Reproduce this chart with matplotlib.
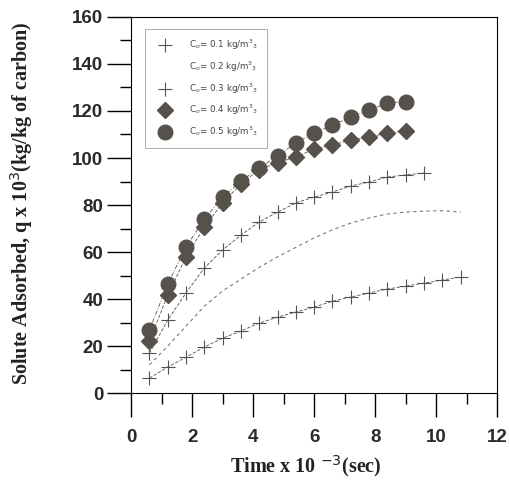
import matplotlib.pyplot as plt

# time x 10^-3 (sec)
t = [0.6, 1.2, 1.8, 2.4, 3.0, 3.6, 4.2, 4.8, 5.4, 6.0, 6.6, 7.2, 7.8, 8.4, 9.0, 9.6, 10.2, 10.8]

# solute adsorbed q x 10^3 for each initial concentration
q01 = [6.4, 11.1, 15.3, 19.6, 23.4, 26.4, 29.8, 32.3, 34.5, 36.6, 39.1, 40.9, 42.6, 44.3, 45.5, 46.8, 48.1, 49.4]
q02 = [12, 20, 28.5, 37, 43.5, 48.5, 53.5, 58, 62, 66, 69.5, 72.3, 74.5, 76.2, 77, 77.4, 77.6, 77]
q03 = [17.0, 31.1, 42.6, 53.2, 60.9, 67.2, 72.8, 77.0, 80.9, 83.4, 85.5, 88.1, 89.8, 91.9, 92.8, 93.6]
q04 = [22.1, 41.7, 57.9, 70.6, 80.9, 89.0, 95.0, 98.0, 100.4, 103.8, 105.5, 107.7, 108.9, 110.6, 111.5]
q05 = [26.8, 46.4, 62.1, 74.0, 83.4, 90.2, 95.7, 101.0, 106.4, 110.6, 114.0, 117.4, 120.4, 123.4, 124.0]

labels = ['0.1', '0.2', '0.3', '0.4', '0.5']

fig = plt.figure(figsize=(5.1, 4.83), dpi=100)
ax = fig.add_axes([0.257, 0.186, 0.718, 0.779])

c = '#57514b'
ax.plot(t, q01, color=c, marker='+', markersize=10, mew=0.8, ls=(0, (4, 2)), lw=0.6,
        label=r'C$_o$= ' + labels[0] + r' kg/m$^3$$_3$')
ax.plot(t, q02, color='#7a7a7a', ls=(0, (3, 3)), lw=0.8,
        label=r'C$_o$= ' + labels[1] + r' kg/m$^3$$_3$')
ax.plot(t[:len(q03)], q03, color=c, marker='+', markersize=10, mew=0.8, ls=(0, (4, 2)), lw=0.6,
        label=r'C$_o$= ' + labels[2] + r' kg/m$^3$$_3$')
ax.plot(t[:len(q04)], q04, color=c, marker='D', markersize=8, ls=(0, (4, 2)), lw=0.6,
        label=r'C$_o$= ' + labels[3] + r' kg/m$^3$$_3$')
ax.plot(t[:len(q05)], q05, color=c, marker='o', markersize=10.5, ls=(0, (5, 2, 1, 2)), lw=0.6,
        label=r'C$_o$= ' + labels[4] + r' kg/m$^3$$_3$')

ax.set_xlim(0, 12)
ax.set_ylim(0, 160)
ax.set_xticks(range(0, 13, 2))
ax.set_xticks(range(1, 12, 2), minor=True)
ax.set_yticks(range(0, 161, 20))
ax.set_yticks(range(10, 160, 20), minor=True)
ax.tick_params(which='major', direction='out', length=17, width=1, labelsize=13.5, pad=3)
ax.tick_params(axis='x', which='major', pad=9)
ax.tick_params(which='minor', direction='out', length=8, width=1)
for lab in ax.get_xticklabels() + ax.get_yticklabels():
    lab.set_fontweight('bold')
    lab.set_family('Liberation Sans')
    lab.set_color('#2a2a2a')

ax.set_xlabel(r'Time x 10 $^{-3}$(sec)', family='Liberation Serif', fontweight='bold',
              fontsize=14.5, color='#222222', va='center')
ax.set_ylabel(r'Solute Adsorbed, q x 10$^3$(kg/kg of carbon)', family='Liberation Serif',
              fontweight='bold', fontsize=14.5, color='#222222', va='center')
ax.xaxis.set_label_coords(0.478, -0.194)
ax.yaxis.set_label_coords(-0.298, 0.505)

leg = ax.legend(loc='upper left', bbox_to_anchor=(0.027, 0.98), fontsize=6.3,
                frameon=True, fancybox=False, edgecolor='#888888', labelcolor='#444444',
                borderpad=1.0, labelspacing=0.85, handlelength=2.6, handletextpad=1.4)
leg.get_frame().set_linewidth(0.6)
for h in leg.get_lines():
    h.set_linestyle('none')

fig.savefig('out.png', dpi=100)
